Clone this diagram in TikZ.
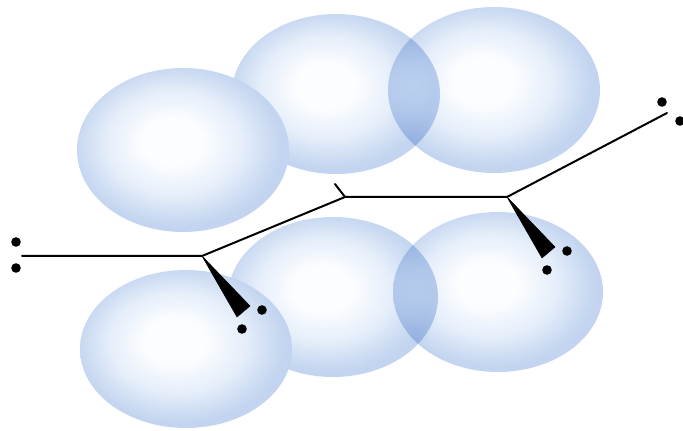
\documentclass[tikz,border=0pt]{standalone}
\usetikzlibrary{calc}

% soft bubble: bright core, pale steel-blue rim
\definecolor{bubblecore}{RGB}{252,253,255}
\definecolor{bubblemid}{RGB}{229,238,250}
\definecolor{bubblerim}{RGB}{194,212,239}
\pgfdeclareradialshading{bubble}{\pgfpoint{-3bp}{3bp}}{%
  color(0bp)=(bubblecore); color(7bp)=(bubblecore); color(16bp)=(bubblemid);
  color(23bp)=(bubblerim!80!bubblemid); color(25bp)=(bubblerim); color(50bp)=(bubblerim)}

\tikzset{
  lobe/.style={shading=bubble},
  seethrough/.style={lobe, blend mode=multiply},
  bond/.style={line width=1.5pt, line cap=round, line join=miter},
  wedgebond/.style={fill=black, draw=black, line width=0.4pt, line join=round},
  lonepair/.style={fill=black},
}

\begin{document}
\begin{tikzpicture}[x=0.75pt, y=0.75pt]
  \useasboundingbox (0,0) rectangle (683,431);

  % upper row of orbital lobes
  \shade[seethrough] (336,337) ellipse [x radius=104, y radius=80];
  \shade[seethrough] (494,341) ellipse [x radius=106, y radius=83];
  \shade[lobe]       (183,281) ellipse [x radius=106, y radius=82];

  % lower row of orbital lobes
  \shade[seethrough] (333,134) ellipse [x radius=105, y radius=80];
  \shade[seethrough] (498,139) ellipse [x radius=105, y radius=80];
  \shade[lobe]       (186,82)  ellipse [x radius=106, y radius=79];

  % skeleton vertices
  \coordinate (lend) at (22,175);
  \coordinate (a)    at (202,175);
  \coordinate (b)    at (345,234);
  \coordinate (btip) at (335,247);
  \coordinate (c)    at (507,234);
  \coordinate (rend) at (667,318);
  \coordinate (wa1)  at (237,114);
  \coordinate (wa2)  at (250,125);
  \coordinate (wc1)  at (542,173);
  \coordinate (wc2)  at (555,184);

  % bonds
  \draw[bond] (lend) -- (a) -- (b) -- (c) -- (rend);
  \draw[bond] (b) -- (btip);
  \filldraw[wedgebond] (a) -- (wa1) -- (wa2) -- cycle;
  \filldraw[wedgebond] (c) -- (wc1) -- (wc2) -- cycle;

  % lone pairs
  \fill[lonepair] (16,189) circle (3.6pt);
  \fill[lonepair] (16,163) circle (3.6pt);
  \fill[lonepair] (262,121) circle (3.6pt);
  \fill[lonepair] (242,102) circle (3.6pt);
  \fill[lonepair] (567,180) circle (3.6pt);
  \fill[lonepair] (547,161) circle (3.6pt);
  \fill[lonepair] (662,329) circle (3.6pt);
  \fill[lonepair] (680,310) circle (3.6pt);
\end{tikzpicture}
\end{document}
